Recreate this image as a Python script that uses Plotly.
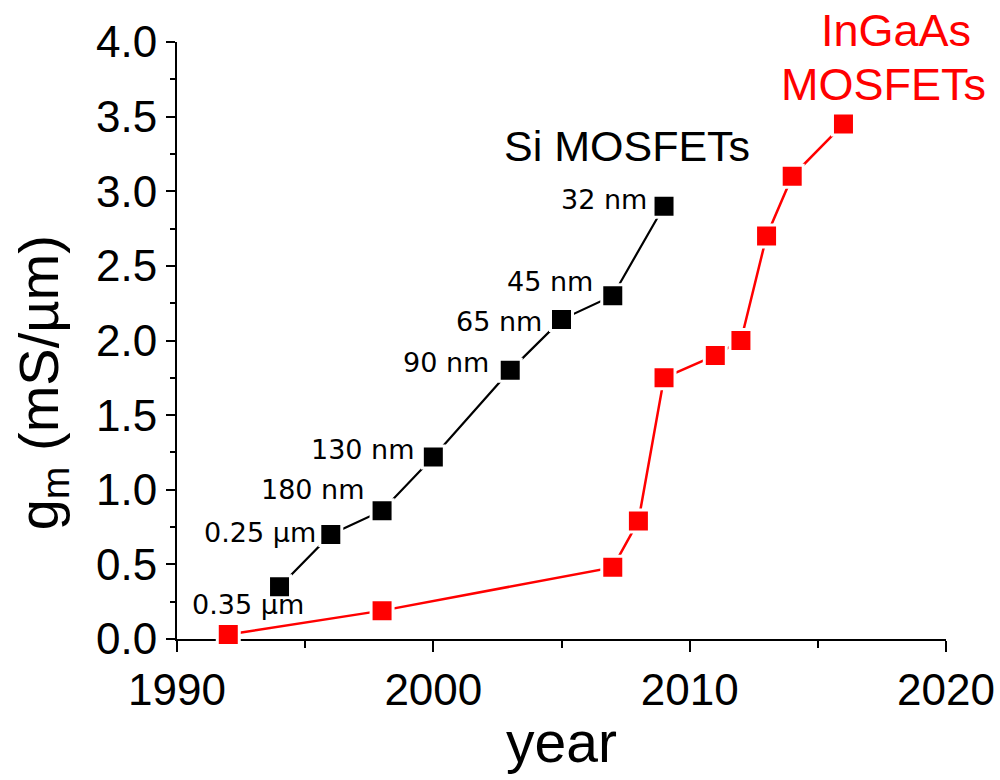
import plotly.graph_objects as go

# Si CMOS transconductance by technology node
si_year = [1994, 1996, 1998, 2000, 2003, 2005, 2007, 2009]
si_gm = [0.35, 0.70, 0.86, 1.22, 1.80, 2.14, 2.30, 2.90]
si_node = ["0.35 µm", "0.25 µm", "180 nm", "130 nm", "90 nm", "65 nm", "45 nm", "32 nm"]

# InGaAs MOSFET transconductance records
ingaas_year = [1992, 1998, 2007, 2008, 2009, 2011, 2012, 2013, 2014, 2016]
ingaas_gm = [0.03, 0.19, 0.48, 0.79, 1.75, 1.90, 2.00, 2.70, 3.10, 3.45]

# axis ticks
y_ticks = [0.0, 0.5, 1.0, 1.5, 2.0, 2.5, 3.0, 3.5, 4.0]
x_ticks = [1990, 2000, 2010, 2020]

# placement of node labels relative to their marker (pixels)
node_anchor = ["center", "right", "right", "right", "right", "right", "right", "right"]
node_dx = [-32, -13, -15, -16, -19, -18, -18, -15]
node_dy = [-18, 2, 21, 7, 8, -2, 14, 7]

BIG = "Liberation Sans, Arial, sans-serif"
SMALL = "DejaVu Sans, Verdana, sans-serif"


def series(x, y, color, lw):
    return go.Scatter(
        x=x, y=y, mode="lines+markers",
        line=dict(color=color, width=lw),
        marker=dict(symbol="square", size=22, color=color,
                    line=dict(color="white", width=3)),
        cliponaxis=False, showlegend=False, hoverinfo="x+y",
    )


fig = go.Figure()
fig.add_trace(series(ingaas_year, ingaas_gm, "#ff0000", 2.5))
fig.add_trace(series(si_year, si_gm, "#000000", 2.2))

annotations = []
for x, y, t, a, dx, dy in zip(si_year, si_gm, si_node, node_anchor, node_dx, node_dy):
    annotations.append(dict(
        x=x, y=y, xref="x", yref="y", text=t, showarrow=False,
        xanchor=a, yanchor="middle", xshift=dx, yshift=dy,
        font=dict(family=SMALL, size=27, color="black"),
    ))

annotations += [
    dict(x=2002.68, y=3.30, xref="x", yref="y", text="Si MOSFETs",
         showarrow=False, xanchor="left", yanchor="middle",
         font=dict(family=BIG, size=43, color="black")),
    dict(x=0.935, y=1.020, xref="paper", yref="paper", text="InGaAs",
         showarrow=False, xanchor="center", yanchor="middle",
         font=dict(family=BIG, size=45, color="#ff0000")),
    dict(x=0.919, y=0.928, xref="paper", yref="paper", text="MOSFETs",
         showarrow=False, xanchor="center", yanchor="middle",
         font=dict(family=BIG, size=45, color="#ff0000")),
    dict(x=0.5, y=-0.172, xref="paper", yref="paper", text="year",
         showarrow=False, xanchor="center", yanchor="middle",
         font=dict(family=BIG, size=57, color="black")),
    dict(x=-0.175, y=0.429, xref="paper", yref="paper",
         text="g<sub>m</sub> (mS/µm)", textangle=-90,
         showarrow=False, xanchor="center", yanchor="middle",
         font=dict(family=BIG, size=56, color="black")),
]

fig.update_layout(
    width=1000, height=780,
    margin=dict(l=177, r=54, t=42, b=141),
    paper_bgcolor="white", plot_bgcolor="white",
    annotations=annotations,
    xaxis=dict(
        range=[1990, 2020], tickvals=x_ticks, ticktext=[str(v) for v in x_ticks],
        showgrid=False, zeroline=False, showline=True, linecolor="black", linewidth=2,
        ticks="outside", ticklen=11, tickwidth=2, tickcolor="black",
        minor=dict(dtick=5, ticks="outside", ticklen=7, tickwidth=2, tickcolor="black"),
        tickfont=dict(family=BIG, size=44, color="black"),
        layer="below traces", automargin=False,
    ),
    yaxis=dict(
        range=[0, 4], tickvals=y_ticks, ticktext=[f"{v:.1f}" for v in y_ticks],
        showgrid=False, zeroline=False, showline=True, linecolor="black", linewidth=2,
        ticks="outside", ticklen=9, tickwidth=2, tickcolor="black",
        minor=dict(dtick=0.25, ticks="outside", ticklen=5, tickwidth=2, tickcolor="black"),
        tickfont=dict(family=BIG, size=44, color="black"),
        layer="below traces", automargin=False,
    ),
)

fig.write_html("out.html")
